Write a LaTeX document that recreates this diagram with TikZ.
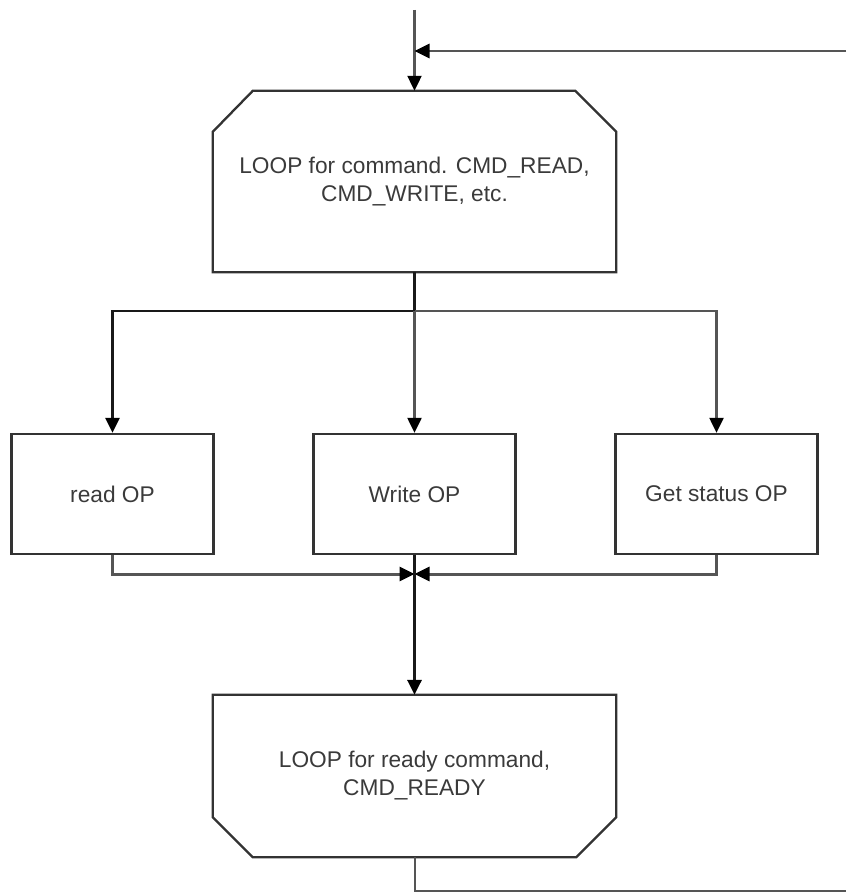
\documentclass[tikz,border=0pt]{standalone}
\usepackage{fontspec}
\setmainfont{Liberation Sans}
\usetikzlibrary{arrows.meta,calc}
\definecolor{boxc}{HTML}{333333}
\definecolor{linec}{HTML}{555555}
\definecolor{txtc}{HTML}{3A3A3A}
\begin{document}
\begin{tikzpicture}[x=1pt,y=-1pt,
  lbl/.style={inner sep=0pt, text=txtc, align=center, font=\fontsize{22.7}{28}\selectfont},
  opbox/.style={lbl, draw=boxc, line width=2.3pt, minimum width=202pt, minimum height=120pt},
  loopbox/.style={lbl, minimum width=403pt},
  outline/.style={draw=boxc, line width=2.3pt, line join=miter},
  tip/.style={-{Triangle[length=15pt,width=14pt,color=black]}},
  conn/.style={draw=linec, line width=2.2pt},
  trunk/.style={draw=black!90, line width=2.6pt}
]
\useasboundingbox (0,0) rectangle (846,893);

% nodes
\node[loopbox, minimum height=181pt] (loop) at (414.5,181.5) {LOOP for command. CMD\_READ,\\CMD\_WRITE, etc.};
\node[opbox] (read) at (112.5,494) {read OP};
\node[opbox] (write) at (414.5,494) {Write OP};
\node[opbox] (gst) at (716.5,494) {Get status OP};
\node[loopbox, minimum height=162pt] (ready) at (414.5,776) {LOOP for ready command,\\CMD\_READY};

% chamfered outlines
\draw[outline] (loop.south west) -- ($(loop.north west)+(0,41)$) -- ($(loop.north west)+(40,0)$)
  -- ($(loop.north east)+(-41,0)$) -- ($(loop.north east)+(0,41)$) -- (loop.south east) -- cycle;
\draw[outline] (ready.north west) -- (ready.north east) -- ($(ready.south east)+(0,-40)$)
  -- ($(ready.south east)+(-40,0)$) -- ($(ready.south west)+(40,0)$) -- ($(ready.south west)+(0,-40)$) -- cycle;

% coordinates
\coordinate (entry) at (414.5,10);
\coordinate (fbr) at (846,51);
\coordinate (fbin) at (414.5,51);
\coordinate (split) at (414.5,311);
\coordinate (merge) at (414.5,574);
\coordinate (exit) at (414.5,891);
\coordinate (exitr) at (846,891);

% connectors
\draw[conn, tip] (entry) -- (loop.north);
\draw[conn, tip, line width=2.8pt] (fbr) -- (fbin);
\draw[trunk, line width=3.4pt] (loop.south) -- (split);
\draw[trunk, tip] (split) -| (read.north);
\draw[conn, tip] (split) -- (write.north);
\draw[conn, tip] (split) -| (gst.north);
\draw[conn, tip, line width=3pt] (read.south) |- (merge);
\draw[conn, tip, line width=3pt] (gst.south) |- (merge);
\draw[trunk, tip, line width=3.2pt] (write.south) -- (ready.north);
\draw[conn, line width=2pt] (ready.south) -- (exit) -- (exitr);
\end{tikzpicture}
\end{document}
